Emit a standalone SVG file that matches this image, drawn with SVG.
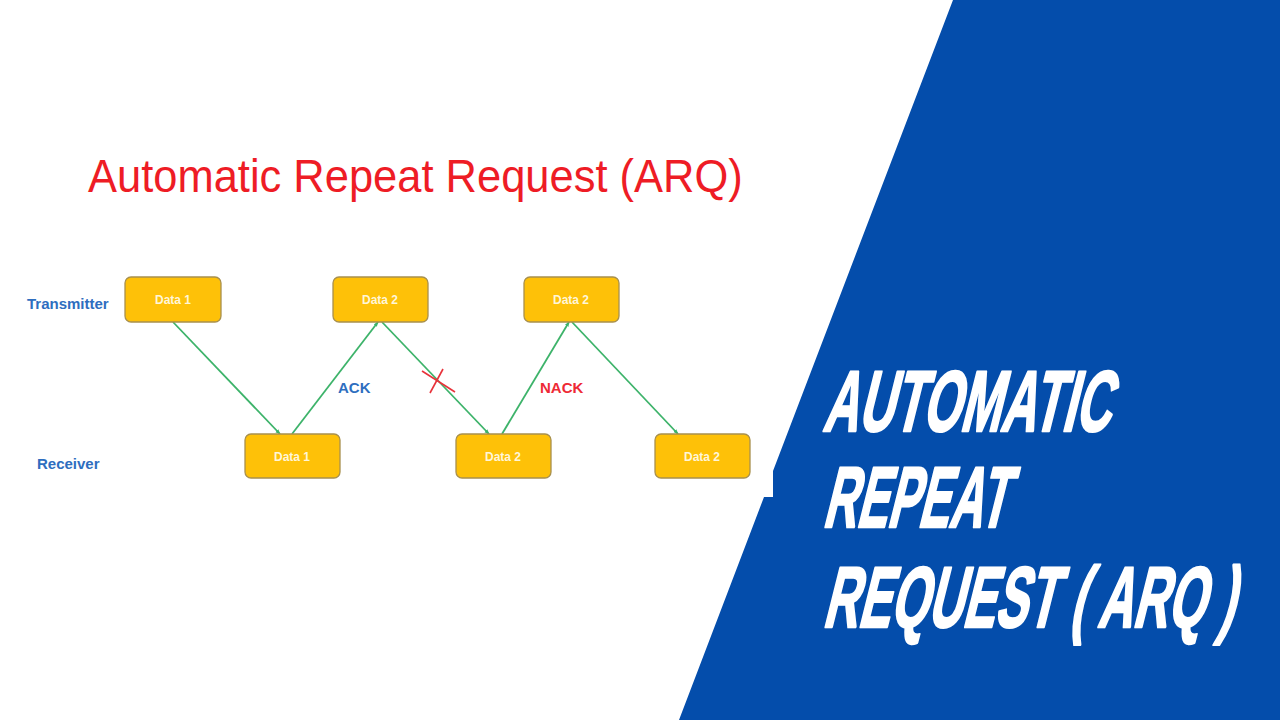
<svg xmlns="http://www.w3.org/2000/svg" width="1280" height="720" viewBox="0 0 1280 720">
<defs>
<style>
.box{fill:#FEC108;stroke:#A8904E;stroke-width:1.3}
.bt{font-family:"Liberation Sans",Arial,sans-serif;font-size:12px;font-weight:bold;fill:#FFF6D8;text-anchor:middle}
.lbl{font-family:"Liberation Sans",Arial,sans-serif;font-weight:bold;font-size:15px;fill:#2E6EBF}
.con{stroke:#3DB36A;stroke-width:1.8;fill:none;marker-end:url(#ah)}
.big{font-family:"Liberation Sans",Arial,sans-serif;font-weight:bold;font-size:86px;fill:#FFFFFF;stroke:#FFFFFF;stroke-width:2.5;stroke-linejoin:round}
</style>
<marker id="ah" viewBox="0 0 10 10" refX="9" refY="5" markerWidth="5" markerHeight="5" orient="auto" markerUnits="userSpaceOnUse">
<path d="M0,1 L10,5 L0,9 z" fill="#3DB36A"/>
</marker>
</defs>
<rect x="0" y="0" width="1280" height="720" fill="#FFFFFF"/>
<g id="banner">
<polygon points="953,0 1280,0 1280,720 679,720 764,497 773,497 773,471" fill="#044DAB"/>
<text class="big" transform="translate(822,431) skewX(-14) scale(0.566,1)">AUTOMATIC</text>
<text class="big" transform="translate(822,527) skewX(-14) scale(0.538,1)">REPEAT</text>
<text class="big" transform="translate(822,627) skewX(-14) scale(0.562,1)">REQUEST ( ARQ )</text>
</g>
<g id="title">
<text transform="translate(88,192) scale(0.925,1)" font-family="Liberation Sans,Arial,sans-serif" font-size="47" fill="#EE1C25">Automatic Repeat Request (ARQ)</text>
</g>
<g id="row-labels">
<text class="lbl" x="27" y="309">Transmitter</text>
<text class="lbl" x="37" y="469">Receiver</text>
</g>
<g id="connectors">
<line class="con" x1="173" y1="322" x2="280" y2="434"/>
<line class="con" x1="292" y1="434" x2="378" y2="322"/>
<line class="con" x1="382" y1="322" x2="489" y2="434"/>
<line class="con" x1="502" y1="434" x2="569" y2="322"/>
<line class="con" x1="572" y1="322" x2="678" y2="434"/>
<g id="lost-mark" stroke="#E8323A" stroke-width="1.6" fill="none">
<line x1="422" y1="371" x2="455" y2="392"/>
<line x1="443" y1="369" x2="430" y2="393"/>
</g>
<text x="338" y="393" font-family="Liberation Sans,Arial,sans-serif" font-weight="bold" font-size="15" fill="#2E6EBF">ACK</text>
<text x="540" y="393" font-family="Liberation Sans,Arial,sans-serif" font-weight="bold" font-size="15" fill="#EE2A35">NACK</text>
</g>
<g id="tx-data1"><rect class="box" x="125" y="277" width="96" height="45" rx="6"/><text class="bt" x="173" y="304">Data 1</text></g>
<g id="tx-data2a"><rect class="box" x="333" y="277" width="95" height="45" rx="6"/><text class="bt" x="380" y="304">Data 2</text></g>
<g id="tx-data2b"><rect class="box" x="524" y="277" width="95" height="45" rx="6"/><text class="bt" x="571" y="304">Data 2</text></g>
<g id="rx-data1"><rect class="box" x="245" y="434" width="95" height="44" rx="6"/><text class="bt" x="292" y="461">Data 1</text></g>
<g id="rx-data2a"><rect class="box" x="456" y="434" width="95" height="44" rx="6"/><text class="bt" x="503" y="461">Data 2</text></g>
<g id="rx-data2b"><rect class="box" x="655" y="434" width="95" height="44" rx="6"/><text class="bt" x="702" y="461">Data 2</text></g>
</svg>
